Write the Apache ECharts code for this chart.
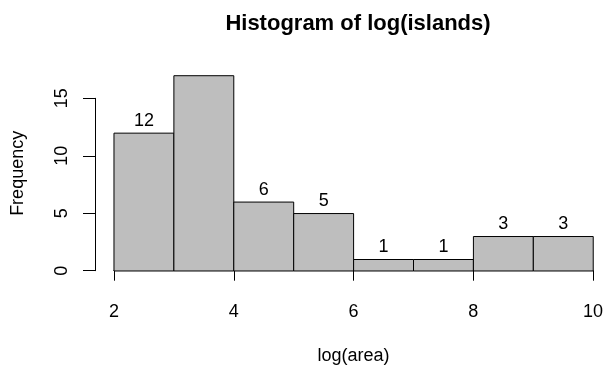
<!DOCTYPE html>
<html>
<head>
<meta charset="utf-8">
<script src="https://cdn.jsdelivr.net/npm/echarts@6/dist/echarts.min.js"></script>
<style>
html,body{margin:0;padding:0;background:#fff;}
#chart{width:604px;height:371px;}
</style>
</head>
<body>
<div id="chart"></div>
<script>
const titleText = 'Histogram of log(islands)';
const xTitle = 'log(area)';
const yTitle = 'Frequency';
const breaks = [2, 3, 4, 5, 6, 7, 8, 9, 10];
const counts = [12, 17, 6, 5, 1, 1, 3, 3];
const xTicks = [2, 4, 6, 8, 10];
const yTicks = [0, 5, 10, 15];

const FONT = '"Liberation Sans", Arial, Helvetica, sans-serif';
const bins = counts.map((c, i) => [breaks[i], breaks[i + 1], c]);

// R-style 4% range extension for the plot region
const xMin = breaks[0], xMax = breaks[breaks.length - 1];
const yMax = Math.max(...counts);
const xPad = (xMax - xMin) * 0.04, yPad = yMax * 0.04;

const chart = echarts.init(document.getElementById('chart'), null, {renderer: 'canvas'});

const option = {
  animation: false,
  backgroundColor: '#ffffff',
  title: {
    text: titleText,
    left: 353,
    textAlign: 'center',
    top: 8,
    textStyle: {fontFamily: FONT, fontSize: 22, fontWeight: 'bold', color: '#000'}
  },
  grid: [
    {left: 94.8, top: 67.9, width: 517.6, height: 210.9, outerBoundsMode: 'none', containLabel: false},
    {left: 114, top: 98.3, width: 479, height: 172.4, outerBoundsMode: 'none', containLabel: false}
  ],
  xAxis: [
    {
      gridIndex: 0, type: 'value', min: xMin - xPad, max: xMax + xPad,
      axisLine: {show: false}, axisTick: {show: false}, axisLabel: {show: false}, splitLine: {show: false},
      name: xTitle, nameLocation: 'middle', nameGap: 68,
      nameTextStyle: {fontFamily: FONT, fontSize: 18, color: '#000'}
    },
    {
      gridIndex: 1, type: 'value', min: xTicks[0], max: xTicks[xTicks.length - 1], interval: 2,
      position: 'bottom', offset: 9.3,
      axisLine: {show: true, lineStyle: {color: '#000', width: 1}},
      axisTick: {show: true, length: 10, inside: false, lineStyle: {color: '#000', width: 1}},
      axisLabel: {show: true, margin: 23, fontFamily: FONT, fontSize: 18, color: '#000'},
      splitLine: {show: false}
    }
  ],
  yAxis: [
    {
      gridIndex: 0, type: 'value', min: -yPad, max: yMax + yPad,
      axisLine: {show: false}, axisTick: {show: false}, axisLabel: {show: false}, splitLine: {show: false},
      name: yTitle, nameLocation: 'middle', nameGap: 67.5, nameRotate: 90,
      nameTextStyle: {fontFamily: FONT, fontSize: 18, color: '#000'}
    },
    {
      gridIndex: 1, type: 'value', min: yTicks[0], max: yTicks[yTicks.length - 1], interval: 5,
      position: 'left', offset: 19,
      axisLine: {show: true, lineStyle: {color: '#000', width: 1}},
      axisTick: {show: true, length: 12, inside: false, lineStyle: {color: '#000', width: 1}},
      axisLabel: {show: true, rotate: 90, margin: 24, fontFamily: FONT, fontSize: 18, color: '#000'},
      splitLine: {show: false}
    }
  ],
  series: [
    {
      type: 'custom',
      xAxisIndex: 0, yAxisIndex: 0,
      data: bins,
      clip: true,
      renderItem: function (params, api) {
        const p0 = api.coord([api.value(0), api.value(2)]);
        const p1 = api.coord([api.value(1), 0]);
        return {
          type: 'rect',
          shape: {x: p0[0], y: p0[1], width: p1[0] - p0[0], height: p1[1] - p0[1]},
          style: {fill: '#bebebe', stroke: '#000', lineWidth: 1}
        };
      }
    },
    {
      type: 'custom',
      xAxisIndex: 0, yAxisIndex: 0,
      data: bins,
      clip: true,
      renderItem: function (params, api) {
        const mid = (api.value(0) + api.value(1)) / 2;
        const p = api.coord([mid, api.value(2)]);
        return {
          type: 'text',
          style: {
            x: p[0], y: p[1] - 3.3,
            text: String(api.value(2)),
            textAlign: 'center', textVerticalAlign: 'bottom', verticalAlign: 'bottom',
            fontFamily: FONT, fontSize: 18, fill: '#000'
          }
        };
      }
    }
  ]
};
chart.setOption(option);
</script>
</body>
</html>
